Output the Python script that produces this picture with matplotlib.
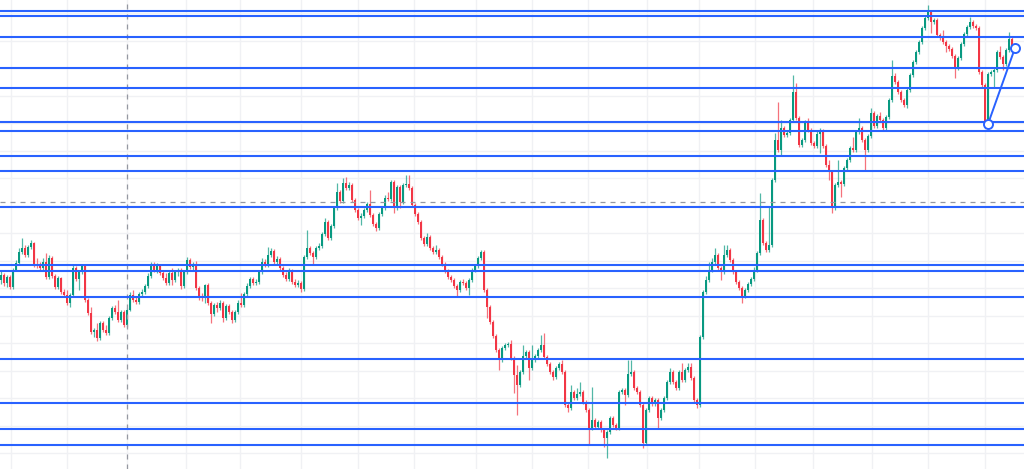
import numpy as np
import matplotlib
matplotlib.use("Agg")
import matplotlib.pyplot as plt

# OHLC data (arbitrary price units), one candle per bar, open = previous close
first_open = 220
close = [
    225, 217, 223, 213, 230, 237, 248, 252, 245, 253, 257, 235, 234, 232, 238, 223, 242, 224, 213, 222,
    208, 205, 197, 205, 232, 221, 228, 234, 200, 187, 168, 170, 162, 177, 170, 167, 182, 192, 188, 180,
    188, 175, 190, 205, 200, 198, 206, 208, 214, 224, 236, 230, 234, 227, 222, 217, 227, 220,
    228, 230, 214, 228, 240, 233, 236, 212, 204, 202, 215, 197, 186, 195, 192, 197, 182, 194, 188, 180,
    188, 197, 195, 206, 214, 221, 217, 218, 228, 238, 235, 245, 249, 238, 241, 232, 225, 221, 229, 218,
    215, 217, 211, 243, 252, 247, 243, 252, 254, 266, 278, 262, 274, 292, 308, 299, 317,
    312, 315, 300, 290, 282, 284, 290, 296, 285, 276, 272, 286, 292, 302, 301, 318, 292, 313, 298, 315,
    316, 312, 295, 286, 278, 262, 256, 263, 252, 248, 250, 243, 236, 229, 223, 220, 214, 210, 218, 217,
    212, 220, 230, 234, 242, 248, 210, 193, 178, 164, 150, 140, 152, 155, 156, 142, 125,
    115, 128, 144, 148, 132, 140, 144, 150, 155, 143, 136, 128, 123, 132, 136, 128, 95, 92, 108, 102,
    106, 108, 98, 90, 72, 80, 73, 78, 70, 62, 68, 82, 75, 72, 108, 110, 105, 126, 128, 112,
    108, 95, 57, 90, 102, 96, 100, 82, 90, 102, 118, 128, 118, 112, 128, 120, 130, 133, 122, 100,
    95, 163,
    208, 220, 230, 238, 245, 232, 228, 245, 250, 240, 228, 218, 212, 204, 210, 216, 221, 230, 247, 280,
    257, 250, 255, 320, 360, 350, 372, 365, 367, 380, 408, 382, 355, 360, 378, 370, 357, 354, 366, 369,
    354, 335, 328, 292, 315, 318, 316, 332, 340, 352, 350, 368, 372, 360,
    350, 364, 387, 374, 384, 380, 372, 383, 400, 424, 418, 408, 400, 395, 410, 425, 438, 448, 458, 472,
    482, 488, 478, 480, 465, 462, 458, 454, 451, 444, 432, 442, 456, 466, 473, 478, 474, 472, 428, 415,
    378, 426, 428, 430, 448, 443, 436, 450, 461, 452,
]
high = [
    230, 227, 225, 225, 232, 240, 252, 262, 255, 255, 260, 258, 242, 238, 242, 247, 245, 244, 226, 224,
    223, 211, 210, 207, 235, 234, 230, 236, 236, 202, 193, 172, 177, 179, 179, 175, 184, 194, 195, 200,
    190, 190, 192, 208, 210, 204, 208, 211, 216, 227, 238, 238, 237, 236, 230, 227, 229, 232,
    230, 232, 232, 230, 243, 242, 238, 239, 214, 207, 216, 217, 199, 197, 198, 200, 199, 196, 196, 190,
    190, 200, 207, 208, 217, 223, 223, 221, 230, 242, 241, 253, 252, 251, 244, 243, 234, 228, 232, 231,
    221, 220, 219, 245, 270, 254, 249, 254, 257, 268, 282, 280, 276, 294, 317, 310, 322,
    323, 318, 317, 302, 292, 287, 292, 298, 310, 287, 278, 288, 294, 305, 308, 320, 320, 315, 315, 317,
    325, 325, 314, 297, 288, 280, 264, 267, 265, 254, 255, 252, 245, 238, 231, 225, 222, 216, 220, 221,
    219, 222, 232, 236, 244, 250, 250, 212, 195, 180, 166, 152, 154, 157, 158, 160, 144,
    135, 130, 155, 150, 150, 155, 146, 152, 165, 167, 145, 138, 130, 134, 138, 140, 130, 97, 115, 110,
    112, 118, 110, 100, 92, 113, 82, 80, 80, 72, 70, 84, 84, 77, 110, 112, 112, 140, 140, 130,
    114, 110, 97, 92, 104, 104, 102, 102, 92, 104, 120, 132, 130, 120, 130, 137, 132, 137, 137, 124,
    102, 165,
    210, 224, 238, 242, 252, 247, 234, 255, 255, 252, 242, 230, 220, 214, 212, 218, 223, 233, 249, 307,
    282, 259, 293, 322, 367, 398, 380, 374, 370, 382, 425, 417, 384, 362, 380, 382, 372, 359, 370, 372,
    371, 356, 340, 330, 317, 340, 320, 334, 342, 354, 363, 370, 382, 374,
    362, 366, 392, 389, 386, 388, 382, 385, 402, 440, 427, 420, 410, 402, 412, 427, 440, 450, 460, 474,
    484, 495, 490, 482, 482, 467, 470, 460, 456, 453, 446, 444, 458, 468, 475, 483, 480, 476, 474, 430,
    417, 428, 430, 432, 450, 454, 445, 452, 468, 463,
]
low = [
    216, 214, 213, 211, 211, 229, 235, 246, 243, 243, 251, 233, 232, 230, 230, 221, 221, 222, 211, 211,
    206, 203, 195, 193, 203, 219, 210, 226, 198, 185, 166, 163, 159, 160, 168, 165, 165, 180, 186, 178,
    178, 173, 173, 189, 198, 196, 196, 203, 206, 212, 222, 228, 227, 225, 220, 215, 215, 215,
    218, 224, 211, 212, 226, 231, 230, 210, 200, 199, 197, 195, 177, 184, 188, 190, 178, 180, 186, 177,
    178, 186, 193, 193, 204, 212, 215, 215, 216, 226, 233, 233, 243, 236, 236, 230, 223, 219, 219, 216,
    213, 213, 208, 209, 241, 245, 235, 241, 250, 252, 264, 260, 260, 272, 290, 297, 297,
    310, 310, 298, 288, 280, 275, 282, 288, 283, 274, 269, 270, 284, 290, 299, 299, 287, 290, 292, 296,
    313, 310, 293, 284, 276, 260, 254, 254, 250, 246, 246, 241, 234, 227, 221, 218, 212, 203, 208, 215,
    210, 205, 218, 228, 232, 240, 208, 182, 176, 162, 148, 130, 138, 150, 153, 140, 107,
    85, 113, 126, 142, 120, 130, 138, 142, 148, 141, 134, 126, 120, 121, 130, 126, 93, 88, 90, 100,
    100, 104, 96, 88, 55, 70, 71, 71, 68, 53, 42, 66, 73, 70, 70, 106, 95, 103, 124, 110,
    106, 93, 52, 55, 88, 94, 94, 72, 80, 88, 100, 116, 116, 110, 110, 118, 118, 128, 120, 98,
    92, 93,
    161, 206, 218, 228, 236, 230, 220, 226, 243, 238, 226, 216, 210, 197, 202, 208, 214, 219, 228, 245,
    255, 248, 248, 253, 318, 348, 345, 363, 363, 365, 378, 380, 353, 353, 358, 368, 355, 352, 352, 347,
    352, 333, 320, 287, 290, 313, 303, 314, 330, 338, 348, 348, 366, 358,
    330, 348, 362, 372, 372, 378, 370, 370, 381, 398, 416, 406, 398, 393, 392, 408, 423, 436, 446, 456,
    470, 480, 467, 476, 463, 460, 456, 448, 449, 442, 422, 430, 440, 454, 464, 471, 472, 470, 426, 413,
    376, 376, 424, 413, 428, 441, 430, 434, 448, 450,
]

# horizontal support / resistance levels
levels = [489, 484, 463, 432, 412, 378, 369, 344, 329, 293, 235, 229, 203, 141, 97, 71, 55]

# trend line (bar index, price)
trend_bars = [329, 338]
trend_prices = [376, 452]

# crosshair
cross_bar = 42
cross_price = 298

# date grid (bar positions)
date_grid = [3.3, 22, 42, 61.7, 79.7, 100, 119, 137.7, 158.3, 177, 195.7,
             215.3, 232.7, 251.3, 270.7, 290.3, 309, 328]

GREEN = "#089981"
RED = "#f23645"
BLUE = "#2962ff"

close = np.array(close, dtype=float)
opn = np.concatenate([[first_open], close[:-1]])
high = np.maximum(np.array(high, dtype=float), np.maximum(opn, close))
low = np.minimum(np.array(low, dtype=float), np.minimum(opn, close))
x = np.arange(len(close))
up = close >= opn
colors = np.where(up, GREEN, RED)

fig = plt.figure(figsize=(10.24, 4.69), dpi=100)
ax = fig.add_axes([0, 0, 1, 1])
ax.set_facecolor("white")

# grid
for g in date_grid:
    ax.axvline(g, color="#f0f1f4", lw=1, zorder=0)
for p in np.arange(47, 500, 27.5):
    ax.axhline(p, color="#f0f1f4", lw=1, zorder=0)

# candles
ax.vlines(x, low, high, colors=colors, lw=0.9, alpha=0.7, zorder=2)
body = np.maximum(np.abs(close - opn), 1.0)
ax.bar(x, body, bottom=np.minimum(opn, close), width=0.82, color=colors,
       linewidth=0, zorder=3)

# crosshair
ax.axvline(cross_bar, color="#9598a1", lw=0.9, ls=(0, (4, 4)), zorder=4)
ax.axhline(cross_price, color="#9598a1", lw=0.9, ls=(0, (4, 4)), zorder=4)

# levels
for lv in levels:
    ax.axhline(lv, color=BLUE, lw=1.5, zorder=5)

# trend line
ax.plot(trend_bars, trend_prices, color=BLUE, lw=1.4, zorder=6)
ax.plot(trend_bars, trend_prices, "o", ms=6.5, mfc="white", mec=BLUE,
        mew=1.4, zorder=7)

ax.set_xlim(-1 / 3, 1023 / 3)
ax.set_ylim(31, 500)
ax.axis("off")

fig.savefig("out.png", dpi=100)
